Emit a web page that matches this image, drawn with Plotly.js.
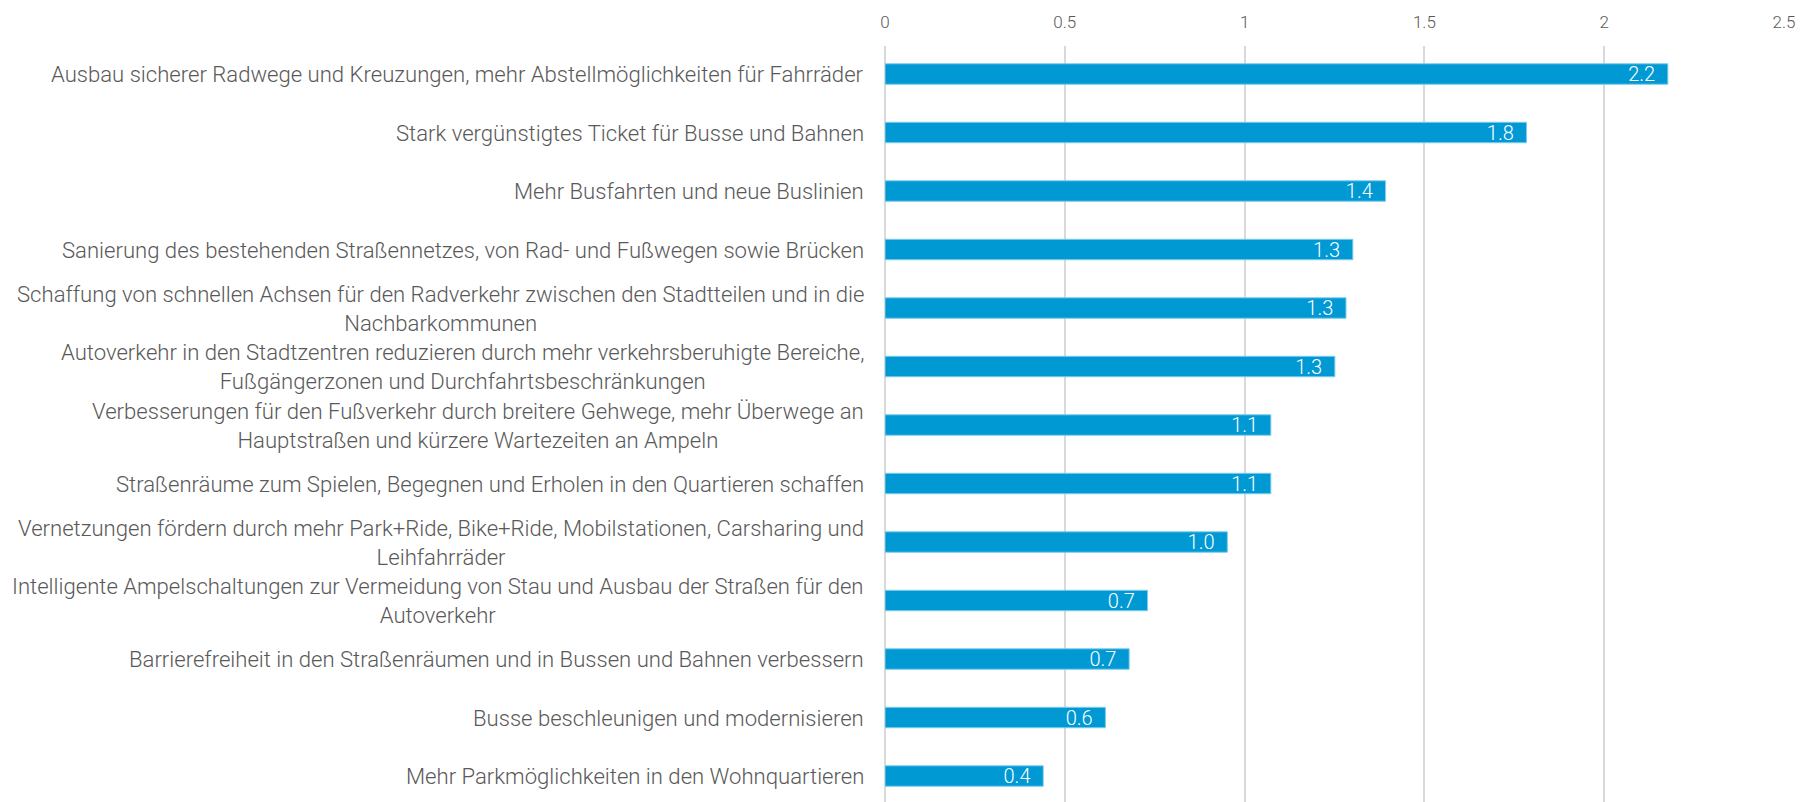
<!DOCTYPE html>
<html>
<head>
<meta charset="utf-8">
<script src="https://cdn.plot.ly/plotly-3.0.1.min.js"></script>
<style>
  html, body { margin: 0; padding: 0; background: #ffffff; }
  #chart { width: 1807px; height: 802px; }
</style>
</head>
<body>
<div id="chart"></div>
<script>
const categories = [
  "Ausbau sicherer Radwege und Kreuzungen, mehr Abstellmöglichkeiten für Fahrräder",
  "Stark vergünstigtes Ticket für Busse und Bahnen",
  "Mehr Busfahrten und neue Buslinien",
  "Sanierung des bestehenden Straßennetzes, von Rad- und Fußwegen sowie Brücken",
  "Schaffung von schnellen Achsen für den Radverkehr zwischen den Stadtteilen und in die<br>Nachbarkommunen",
  "Autoverkehr in den Stadtzentren reduzieren durch mehr verkehrsberuhigte Bereiche,<br>Fußgängerzonen und Durchfahrtsbeschränkungen",
  "Verbesserungen für den Fußverkehr durch breitere Gehwege, mehr Überwege an<br>Hauptstraßen und kürzere Wartezeiten an Ampeln",
  "Straßenräume zum Spielen, Begegnen und Erholen in den Quartieren schaffen",
  "Vernetzungen fördern durch mehr Park+Ride, Bike+Ride, Mobilstationen, Carsharing und<br>Leihfahrräder",
  "Intelligente Ampelschaltungen zur Vermeidung von Stau und Ausbau der Straßen für den<br>Autoverkehr",
  "Barrierefreiheit in den Straßenräumen und in Bussen und Bahnen verbessern",
  "Busse beschleunigen und modernisieren",
  "Mehr Parkmöglichkeiten in den Wohnquartieren"
];
const values = [2.177, 1.784, 1.392, 1.301, 1.282, 1.251, 1.073, 1.073, 0.952, 0.730, 0.679, 0.613, 0.440];
const tickValues = [0, 0.5, 1, 1.5, 2, 2.5];
const tickLabels = ["0", "0.5", "1", "1.5", "2", "2.5"];

const labelFont = "Roboto, sans-serif";
const grey = "#595959";

const trace = {
  type: "bar",
  orientation: "h",
  x: values,
  y: categories,
  marker: { color: "#0099d4", line: { color: "#7fcdec", width: 1 } },
  texttemplate: "%{x:.1f}\u00a0\u00a0",
  textposition: "inside",
  insidetextanchor: "end",
  constraintext: "none",
  insidetextfont: { family: labelFont, size: 20, weight: 300, color: "#ffffff" },
  hoverinfo: "x+y",
  cliponaxis: false
};

const annotations = categories.map(c => ({
  xref: "paper", yref: "y",
  x: 0, y: c,
  xanchor: "right", yanchor: "middle",
  xshift: -19,
  align: "center",
  showarrow: false,
  text: c,
  font: { family: labelFont, size: 22.1, weight: 300, color: grey }
}));

const layout = {
  width: 1807, height: 802,
  margin: { l: 885, r: 23, t: 46, b: 0 },
  paper_bgcolor: "#ffffff",
  plot_bgcolor: "#ffffff",
  showlegend: false,
  bargap: 0.65,
  xaxis: {
    side: "top",
    range: [0, 2.5],
    tickvals: tickValues,
    ticktext: tickLabels,
    showgrid: true,
    gridcolor: "#d9d9d9",
    gridwidth: 1.5,
    zeroline: true,
    zerolinecolor: "#d9d9d9",
    zerolinewidth: 1.5,
    showline: false,
    ticks: "",
    ticklabelstandoff: 14,
    tickfont: { family: labelFont, size: 17, weight: 300, color: grey }
  },
  yaxis: {
    type: "category",
    range: [12.444, -0.479],
    showticklabels: false,
    showgrid: false,
    zeroline: false,
    showline: false,
    ticks: ""
  },
  annotations: annotations
};

Plotly.newPlot("chart", [trace], layout, { displayModeBar: false, responsive: false });
</script>
</body>
</html>
